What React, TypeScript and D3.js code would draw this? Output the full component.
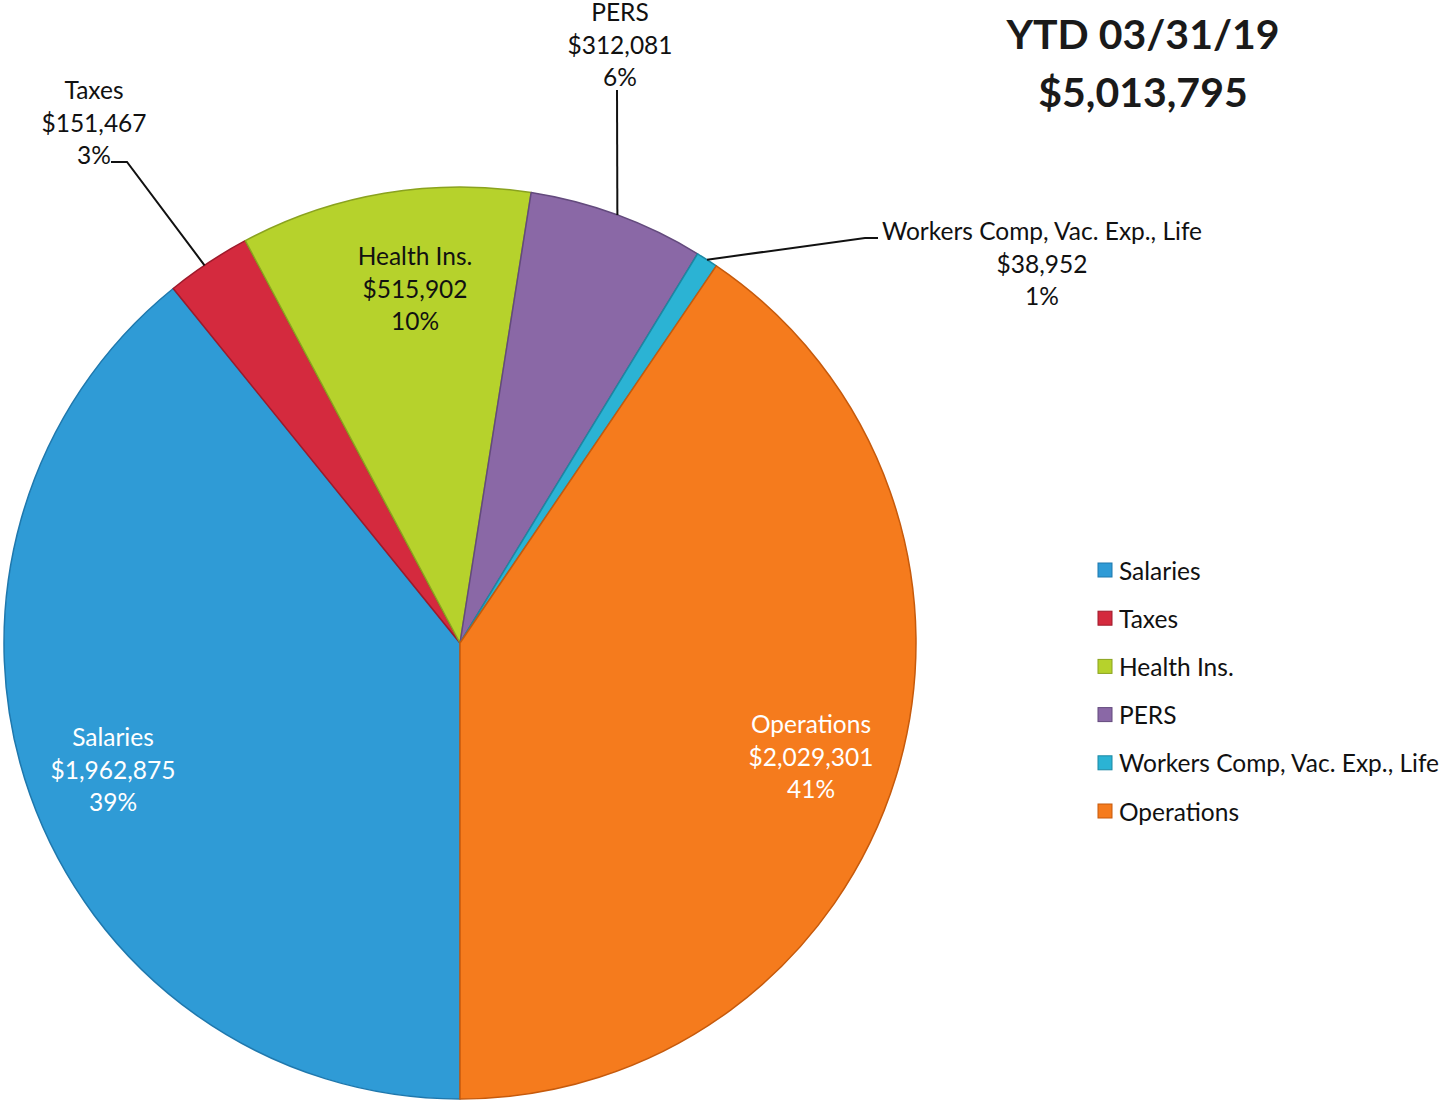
import React from "react";
import * as d3 from "d3";

const categories = ["Salaries", "Taxes", "Health Ins.", "PERS", "Workers Comp, Vac. Exp., Life", "Operations"];
const values = [1962875, 151467, 515902, 312081, 38952, 2029301];
const percents = ["39%", "3%", "10%", "6%", "1%", "41%"];
const colors = ["#2f9bd6", "#d42a3e", "#b6d22c", "#8a68a6", "#2bb3d4", "#f57b1d"];
const strokes = ["#1f78ad", "#9e1a2b", "#8aa21f", "#634a7d", "#1c88a3", "#c65a0c"];
const titleLines = ["YTD 03/31/19", "$5,013,795"];

const W = 1445, H = 1110;
const cx = 460, cy = 643, R = 456;
const font = "Lato, 'Open Sans', sans-serif";

// label placements (centered x, first line y) and text color
const labelPos: { x: number; y: number; fill: string }[] = [
  { x: 113, y: 736, fill: "#ffffff" },
  { x: 94, y: 89, fill: "#111" },
  { x: 415, y: 255, fill: "#111" },
  { x: 620, y: 11, fill: "#111" },
  { x: 1042, y: 230, fill: "#111" },
  { x: 811, y: 723, fill: "#ffffff" },
];

export default function App() {
  const pie = d3.pie<number>().sort(null).startAngle(Math.PI).endAngle(3 * Math.PI);
  const arcs = pie(values);
  const arc = d3.arc<d3.PieArcDatum<number>>().innerRadius(0).outerRadius(R);
  const fmt = d3.format("$,");
  const lineH = 32.5;

  const legendY = d3.scalePoint<string>().domain(categories).range([570, 811]);

  const edge = (i: number, frac = 0.5) => {
    const a = arcs[i];
    const ang = a.startAngle + (a.endAngle - a.startAngle) * frac;
    return [cx + R * Math.sin(ang), cy - R * Math.cos(ang)];
  };
  const [tx, ty] = edge(1, 0.45);
  const [px, py] = edge(3, 0.5);
  const [wx, wy] = edge(4, 0.5);

  return (
    <svg width={W} height={H} style={{ display: "block", position: "absolute", left: 0, top: 0, background: "#fff" }}>
      <g transform={`translate(${cx},${cy})`}>
        {arcs.map((a, i) => (
          <path key={i} d={arc(a) || ""} fill={colors[i]} stroke={strokes[i]} strokeWidth={1.5} strokeLinejoin="round" />
        ))}
      </g>
      <polyline points={`111,162 127,162 ${tx},${ty}`} fill="none" stroke="#111" strokeWidth={2} />
      <polyline points={`617,90 ${px},${py}`} fill="none" stroke="#111" strokeWidth={2} />
      <polyline points={`${wx},${wy} 865,238 878,238`} fill="none" stroke="#111" strokeWidth={2} />
      {categories.map((c, i) => (
        <text key={c} x={labelPos[i].x} y={labelPos[i].y} textAnchor="middle" fontFamily={font} fontSize={24.5} fill={labelPos[i].fill} dominantBaseline="central">
          {[c, fmt(values[i]), percents[i]].map((t, j) => (
            <tspan key={j} x={labelPos[i].x} y={labelPos[i].y + j * lineH}>{t}</tspan>
          ))}
        </text>
      ))}
      {titleLines.map((t, j) => (
        <text key={t} x={1143} y={33 + j * 58} textAnchor="middle" dominantBaseline="central" fontFamily={font} fontWeight="bold" fontSize={41} fill="#1a1a1a">{t}</text>
      ))}
      {categories.map((c, i) => (
        <g key={c} transform={`translate(1098,${legendY(c)})`}>
          <rect x={0} y={-7} width={14} height={14} fill={colors[i]} stroke={strokes[i]} strokeWidth={1} />
          <text x={21} y={0} dominantBaseline="central" fontFamily={font} fontSize={24.5} fill="#111">{c}</text>
        </g>
      ))}
    </svg>
  );
}
